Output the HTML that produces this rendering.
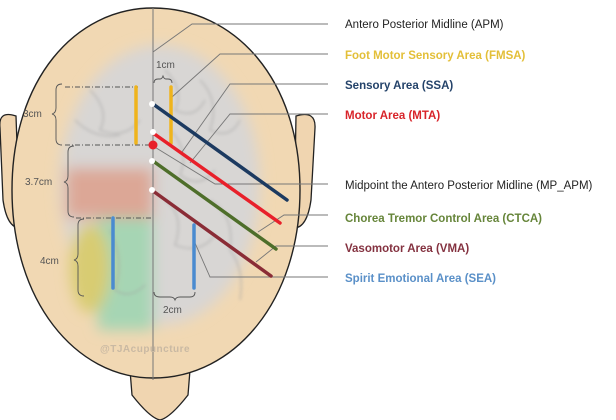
<!DOCTYPE html>
<html><head><meta charset="utf-8"><style>
html,body{margin:0;padding:0;background:#fff;}
svg{display:block;}
text{font-family:"Liberation Sans",sans-serif;}
</style></head><body>
<svg width="616" height="420" viewBox="0 0 616 420" xmlns="http://www.w3.org/2000/svg">
<defs>
<filter id="b" x="-20%" y="-20%" width="140%" height="140%"><feGaussianBlur stdDeviation="7"/></filter>
<filter id="b2"><feGaussianBlur stdDeviation="1.5"/></filter>
</defs>
<!-- neck -->
<path d="M130 370 L132 395 Q150 418 160 420 Q170 418 188 395 L190 370 Z" fill="#f0d5b0" stroke="#222" stroke-width="1.3"/>
<!-- ears -->
<path d="M16 116 Q-2 110 0 128 L3 200 Q7 228 20 228 Z" fill="#f0d5b0" stroke="#222" stroke-width="1.3"/>
<path d="M296 116 Q316 110 315 128 L311 200 Q307 228 294 228 Z" fill="#f0d5b0" stroke="#222" stroke-width="1.3"/>
<!-- head -->
<path d="M153 8 C235 8 300 80 300 190 C300 300 235 378 153 378 C75 378 12 300 12 190 C12 80 75 8 153 8 Z" fill="#f1d8b3" stroke="#222" stroke-width="1.4"/>
<!-- brain -->
<g filter="url(#b)">
<ellipse cx="160" cy="185" rx="100" ry="140" fill="#d8d6d4"/>
<rect x="66" y="168" width="87" height="50" fill="#dca796"/>
<rect x="98" y="218" width="55" height="112" fill="#a6d5b4"/>
<ellipse cx="90" cy="268" rx="20" ry="45" fill="#d8cc72"/>
</g>
<g filter="url(#b2)" stroke="#a2a2a2" stroke-width="1.2" fill="none" opacity="0.7">
<path d="M165 70 Q185 90 175 110 Q195 120 205 100"/>
<path d="M200 80 Q220 100 210 130 Q230 140 240 120"/>
<path d="M170 130 Q190 150 180 175 Q200 190 215 170"/>
<path d="M165 200 Q185 215 175 245 Q200 255 215 235"/>
<path d="M210 200 Q235 215 230 250 Q245 270 240 300"/>
<path d="M90 90 Q110 110 100 130 Q125 140 140 120"/>
<path d="M75 120 Q95 140 120 135"/>
<path d="M110 230 Q125 260 115 290 Q130 300 145 285"/>
</g>
<!-- midline -->
<line x1="153" y1="8" x2="153" y2="380" stroke="#777" stroke-width="1"/>
<!-- dashed guides -->
<g stroke="#555" stroke-width="0.9" stroke-dasharray="5,2,1,2" fill="none">
<line x1="65" y1="87" x2="138" y2="87"/>
<line x1="65" y1="145" x2="153" y2="145"/>
<line x1="76" y1="218" x2="153" y2="218"/>
</g>
<!-- braces -->
<g stroke="#555" stroke-width="0.9" fill="none">
<path d="M62 84 Q56 84 56 90 L56 108 Q56 113 52 114 Q56 115 56 120 L56 139 Q56 145 62 145"/>
<path d="M74 146 Q68 146 68 152 L68 176 Q68 181 64 182 Q68 183 68 188 L68 211 Q68 217 74 217"/>
<path d="M84 219 Q78 219 78 225 L78 254 Q78 259 74 260 Q78 261 78 266 L78 290 Q78 296 84 296"/>
<path d="M154 83 Q154 79 158 79 L160 79 Q162 79 163 76 Q164 79 166 79 L168 79 Q172 79 172 83"/>
<path d="M154 292 Q154 297 160 297 L170 297 Q174 297 175 300 Q176 297 180 297 L190 297 Q195 297 195 292"/>
</g>
<g font-size="10" fill="#555">
<text x="23" y="117">3cm</text>
<text x="25" y="185">3.7cm</text>
<text x="40" y="264">4cm</text>
<text x="156" y="68">1cm</text>
<text x="163" y="313">2cm</text>
</g>
<text x="100" y="352" font-size="10" fill="#c9b9a3" font-weight="bold" letter-spacing="0.5">@TJAcupuncture</text>
<!-- connector lines -->
<g stroke="#777" stroke-width="0.9" fill="none">
<polyline points="153,52 192,24 328,24"/>
<polyline points="172,97 220,54 328,54"/>
<polyline points="182,152 230,84 328,84"/>
<polyline points="190,163 230,114 328,114"/>
<polyline points="153,146 215,184 328,184"/>
<polyline points="258,232 284,215 328,215"/>
<polyline points="256,262 276,246 328,246"/>
<polyline points="195,243 210,277 328,277"/>
</g>
<!-- colored lines -->
<g stroke-width="3.5" stroke-linecap="round">
<line x1="136" y1="87" x2="136" y2="143" stroke="#efb41c"/>
<line x1="171" y1="87" x2="171" y2="143" stroke="#efb41c"/>
<line x1="113" y1="218" x2="113" y2="288" stroke="#4a8bd0"/>
<line x1="194" y1="225" x2="194" y2="288" stroke="#4a8bd0"/>
<line x1="153" y1="104" x2="287" y2="200" stroke="#1c3a60"/>
<line x1="153" y1="133" x2="280" y2="223" stroke="#e8202a"/>
<line x1="153" y1="161" x2="276" y2="249" stroke="#4e6e2a"/>
<line x1="153" y1="191" x2="271" y2="276" stroke="#8a2c36"/>
</g>
<g fill="#fff">
<circle cx="152" cy="104" r="3"/>
<circle cx="153" cy="132" r="3"/>
<circle cx="152" cy="161" r="3"/>
<circle cx="152" cy="190" r="3"/>
</g>
<circle cx="153" cy="145" r="4.5" fill="#e8202a"/>
<!-- labels -->
<g font-size="11.5">
<text x="345" y="28" fill="#222">Antero Posterior Midline (APM)</text>
<text x="345" y="59" fill="#e3bf38" font-weight="bold">Foot Motor Sensory Area (FMSA)</text>
<text x="345" y="89" fill="#24436a" font-weight="bold">Sensory Area (SSA)</text>
<text x="345" y="119" fill="#d8242a" font-weight="bold">Motor Area (MTA)</text>
<text x="345" y="189" fill="#222">Midpoint the Antero Posterior Midline (MP_APM)</text>
<text x="345" y="222" fill="#66853a" font-weight="bold">Chorea Tremor Control Area (CTCA)</text>
<text x="345" y="252" fill="#843240" font-weight="bold">Vasomotor Area (VMA)</text>
<text x="345" y="282" fill="#5a90c8" font-weight="bold">Spirit Emotional Area (SEA)</text>
</g>
</svg>
</body></html>
